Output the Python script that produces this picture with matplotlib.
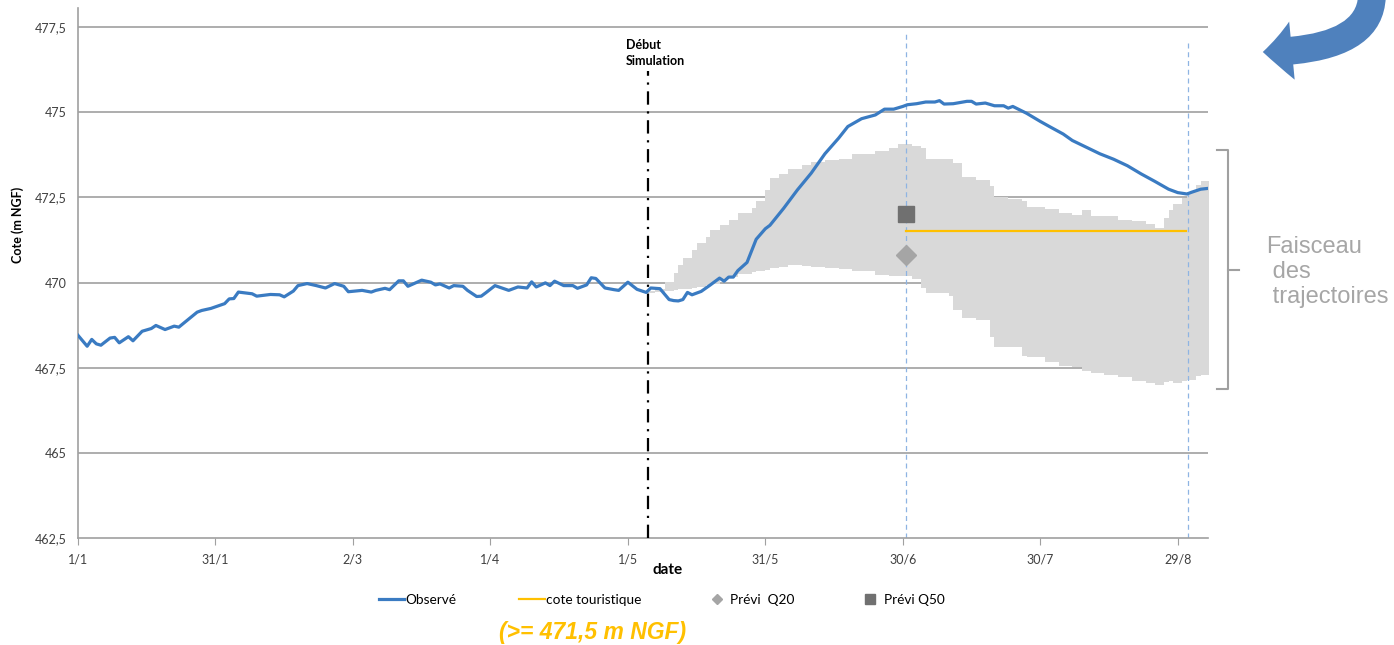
import matplotlib
from matplotlib import pyplot as plt
from matplotlib.patches import FancyArrowPatch
from matplotlib.lines import Line2D
import numpy as np

matplotlib.rcParams.update({'font.size': 9, 'font.family': ['Lato', 'DejaVu Sans']})

# observed level (day since 1/1, m NGF)
obs_day = [0, 2, 3, 4, 5, 7, 8, 9, 11, 12, 14, 16, 17, 19, 21, 22, 26, 27, 29, 32,
           33, 34, 35, 38, 39, 42, 44, 45, 47, 48, 50, 52, 54, 56, 58, 59, 62, 64, 65, 67,
           68, 70, 71, 72, 75, 77, 78, 79, 81, 82, 84, 85, 87, 88, 89, 91, 94, 96, 98, 99,
           100, 102, 103, 104, 106, 108, 109, 111, 112, 113, 115, 117, 118, 120, 122, 124, 125, 127, 129, 130,
           131, 132, 133, 134, 136, 138, 140, 141, 142, 143, 144, 146, 148, 150, 151, 154, 157, 160, 163, 166,
           168, 171, 174, 176, 178, 180, 181, 183, 185, 187, 188, 189, 191, 194, 195, 196, 198, 200, 202, 203,
           204, 207, 210, 212, 215, 217, 219, 223, 226, 229, 232, 235, 238, 240, 242, 243, 245, 247]
obs_val = [468.45, 468.13, 468.33, 468.2, 468.16, 468.37, 468.39, 468.23, 468.41, 468.29,
           468.57, 468.65, 468.74, 468.62, 468.72, 468.69, 469.13, 469.18, 469.24, 469.38,
           469.52, 469.53, 469.72, 469.67, 469.6, 469.65, 469.64, 469.58, 469.75, 469.91,
           469.97, 469.91, 469.84, 469.97, 469.89, 469.73, 469.77, 469.72, 469.77, 469.83,
           469.79, 470.05, 470.05, 469.89, 470.07, 470.01, 469.93, 469.96, 469.84, 469.91,
           469.89, 469.77, 469.59, 469.6, 469.7, 469.91, 469.77, 469.87, 469.84, 470.02,
           469.87, 469.99, 469.91, 470.04, 469.91, 469.91, 469.83, 469.93, 470.14, 470.12,
           469.84, 469.79, 469.77, 470.01, 469.8, 469.71, 469.84, 469.82, 469.5, 469.47,
           469.46, 469.5, 469.71, 469.64, 469.74, 469.93, 470.13, 470.04, 470.16, 470.16,
           470.35, 470.59, 471.27, 471.58, 471.68, 472.18, 472.72, 473.21, 473.78, 474.24,
           474.58, 474.81, 474.92, 475.09, 475.09, 475.17, 475.22, 475.25, 475.3, 475.3,
           475.34, 475.24, 475.25, 475.32, 475.32, 475.24, 475.27, 475.19, 475.19, 475.12,
           475.17, 474.97, 474.73, 474.58, 474.36, 474.17, 474.04, 473.78, 473.62, 473.43,
           473.19, 472.97, 472.74, 472.64, 472.6, 472.65, 472.74, 472.77]

# envelope of simulated trajectories
band_day = [123, 126, 128, 130, 131, 132, 134, 135, 137, 138, 140, 142, 144, 147, 148, 150, 151, 153, 155, 158,
            160, 163, 166, 169, 174, 177, 179, 182, 184, 185, 190, 191, 193, 196, 199, 200, 203, 206, 207, 211,
            214, 217, 219, 221, 224, 227, 230, 233, 235, 237, 238, 239, 241, 242, 244, 245, 247]
band_hi = [469.75, 469.8, 470.03, 470.27, 470.52, 470.71, 470.96, 471.15, 471.35, 471.55,
           471.69, 471.84, 472.04, 472.18, 472.38, 472.72, 473.06, 473.18, 473.33, 473.45,
           473.55, 473.6, 473.62, 473.78, 473.87, 473.94, 474.07, 474.01, 473.94, 473.62,
           473.62, 473.5, 473.11, 473.01, 472.82, 472.52, 472.45, 472.38, 472.23, 472.15,
           472.05, 471.99, 472.13, 471.96, 471.94, 471.84, 471.82, 471.73, 471.6, 471.89,
           472.13, 472.31, 472.48, 472.67, 472.87, 472.99, 472.87]
band_lo = [469.7, 469.72, 469.75, 469.79, 469.8, 469.82, 469.85, 469.87, 469.92, 469.96,
           470.1, 470.16, 470.25, 470.32, 470.35, 470.38, 470.42, 470.47, 470.52, 470.49,
           470.46, 470.44, 470.39, 470.33, 470.22, 470.18, 470.2, 470.1, 469.85, 469.7,
           469.6, 469.2, 468.95, 468.9, 468.4, 468.12, 468.12, 467.85, 467.8, 467.66,
           467.54, 467.52, 467.4, 467.33, 467.28, 467.22, 467.12, 467.05, 467.0, 467.08,
           467.1, 467.06, 467.1, 467.15, 467.25, 467.3, 467.37]

sim_start = 124.3
prev_day = 180.7
end_day = 242.2
cote_touristique = 471.5
q20 = 470.8
q50 = 472.0

tick_days = [0, 30, 60, 90, 120, 150, 180, 210, 240]
tick_labels = ['1/1', '31/1', '2/3', '1/4', '1/5', '31/5', '30/6', '30/7', '29/8']
y_ticks = [462.5, 465, 467.5, 470, 472.5, 475, 477.5]
y_labels = ['462,5', '465', '467,5', '470', '472,5', '475', '477,5']

W, H = 1394, 645
def fx(px):
    return px / W
def fy(py):
    return 1 - py / H

fig = plt.figure(figsize=(W / 100, H / 100), dpi=100)
ax = fig.add_axes([fx(78), fy(538), fx(1208 - 78), (538 - 8) / H])

for y in y_ticks[1:]:
    ax.axhline(y, color='#a0a0a0', lw=1.2, zorder=0)

ax.fill_between(band_day, band_lo, band_hi, step='post', color='#d9d9d9', lw=0, zorder=1)

ax.plot([prev_day, prev_day], [462.5, 477.3], color='#8eb4e3', lw=0.9, ls=(0, (4, 3)), zorder=2)
ax.plot([end_day, end_day], [462.5, 477.1], color='#8eb4e3', lw=0.9, ls=(0, (4, 3)), zorder=2)
ax.plot([sim_start, sim_start], [462.5, 476.2], color='black', lw=1.6, ls=(0, (6, 3, 1, 3)), zorder=3)

ax.plot(obs_day, obs_val, color='#3a7bc2', lw=2.3, zorder=4, solid_joinstyle='round')
ax.plot([prev_day, end_day - 0.3], [cote_touristique] * 2, color='#ffc000', lw=1.6, zorder=4)
ax.plot([prev_day], [q20], marker='D', ms=10.5, color='#a5a5a5', zorder=5)
ax.plot([prev_day], [q50], marker='s', ms=11, color='#707070', zorder=5)

ax.set_xlim(0, 246.6)
ax.set_ylim(462.5, 478.06)
ax.set_xticks(tick_days)
ax.set_xticklabels(tick_labels, color='#404040')
ax.set_yticks(y_ticks)
ax.set_yticklabels(y_labels, color='#404040')
ax.tick_params(axis='x', length=5, color='#a0a0a0', pad=6)
ax.tick_params(axis='y', length=0, pad=8)
for s in ['top', 'right']:
    ax.spines[s].set_visible(False)
for s in ['left', 'bottom']:
    ax.spines[s].set_color('#a0a0a0')
    ax.spines[s].set_linewidth(1.2)

fig.text(fx(18), fy(225), 'Cote (m NGF)', rotation=90, ha='center', va='center',
         fontweight='bold', fontsize=9)
fig.text(fx(668), fy(570), 'date', ha='center', va='center', fontweight='bold', fontsize=11)
fig.text(fx(626), fy(53), 'Début\nSimulation', ha='left', va='center', fontweight='bold',
         fontsize=9, linespacing=1.35)

handles = [Line2D([], [], color='#3a7bc2', lw=2.3),
           Line2D([], [], color='#ffc000', lw=1.6),
           Line2D([], [], ls='none', marker='D', ms=5.5, color='#a5a5a5'),
           Line2D([], [], ls='none', marker='s', ms=6.5, color='#707070')]
fig.legend(handles, ['Observé', 'cote touristique', 'Prévi  Q20', 'Prévi Q50'],
           loc='center', bbox_to_anchor=(fx(662), fy(600)), ncol=4, frameon=False,
           fontsize=9.8, handlelength=1.85, handletextpad=0.1, columnspacing=4.6)

fig.text(fx(499), fy(633), '(>= 471,5 m NGF)', ha='left', va='center', color='#ffc000',
         fontsize=16.5, fontweight='bold', fontstyle='italic', family='Liberation Sans')

# bracket and label for the trajectories envelope
gray = '#a0a0a0'
fig.add_artist(Line2D([fx(1217), fx(1228), fx(1228), fx(1217)], [fy(150), fy(150), fy(389), fy(389)],
                      color=gray, lw=1.5))
fig.add_artist(Line2D([fx(1228), fx(1239)], [fy(270), fy(270)], color=gray, lw=1.5))
fig.text(fx(1266), fy(272), 'Faisceau\n des\n trajectoires', ha='left', va='center',
         color='#a6a6a6', fontsize=17, family='Liberation Sans', linespacing=1.2)

arrow = FancyArrowPatch((fx(1372), fy(-6)), (fx(1260), fy(52)), transform=fig.transFigure,
                        connectionstyle='angle3,angleA=90,angleB=0',
                        arrowstyle='simple,head_length=21,head_width=42,tail_width=20',
                        color='#4f81bd', lw=0)
fig.add_artist(arrow)

fig.savefig('out.png', dpi=100)
